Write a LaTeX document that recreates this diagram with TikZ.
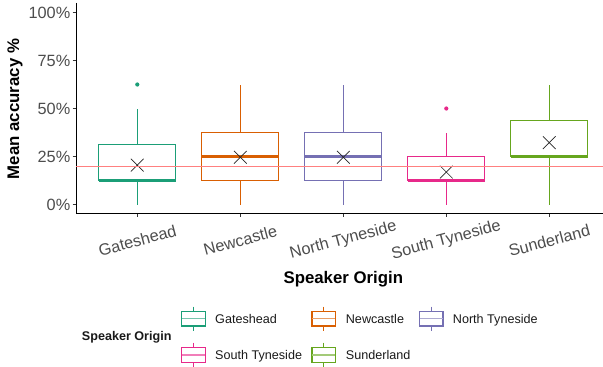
\documentclass[tikz,border=0pt]{standalone}
\usepackage{fontspec}
\setmainfont{Liberation Sans}
\usetikzlibrary{shapes.misc}

\definecolor{gates}{HTML}{1B9E77}
\definecolor{newc}{HTML}{D95F02}
\definecolor{north}{HTML}{7570B3}
\definecolor{south}{HTML}{E7298A}
\definecolor{sund}{HTML}{66A61E}
\definecolor{ticktext}{HTML}{4D4D4D}
\definecolor{tickline}{HTML}{333333}
\definecolor{refline}{HTML}{FF8080}

\begin{document}
\begin{tikzpicture}[x=1pt, y=-1pt,
    axisline/.style={black, line width=1pt},
    tickmark/.style={tickline, line width=0.9pt},
    boxline/.style={line width=1pt},
    medline/.style={line width=2.4pt},
    meanmark/.style={cross out, draw=black!85, line width=0.7pt, minimum size=12pt, inner sep=0},
    ticklab/.style={font=\fontsize{16.3}{18}\selectfont, text=ticktext, inner sep=0},
    axtitle/.style={font=\fontsize{16.8}{19}\selectfont\bfseries, inner sep=0},
    legtext/.style={font=\fontsize{12.6}{14}\selectfont, text=black!90, inner sep=0, anchor=base west}]
    \useasboundingbox (0,0) rectangle (603,367);

    % Achsen
    \draw[axisline] (76,2.9) -- (76,213.8) -- (603,213.8);
    \foreach \v [count=\i] in {0,25,50,75,100} {
        \draw[tickmark] (72.7,{204.5-1.92*\v}) -- (76,{204.5-1.92*\v});
        \node[ticklab, anchor=east] (ylab\i) at (70.5,{204.5-1.92*\v}) {\v\%};
    }

    % Boxen
    \begin{scope}[shift={(0,204.5)}, y=1.92pt]
        \foreach \xc/\lo/\qa/\md/\qb/\hi/\mn/\col [count=\i] in {
            137.3/0/12.5/12.5/31.25/50/20.5/gates,
            240.3/0/12.5/25/37.5/62.5/24.6/newc,
            343.3/0/12.5/25/37.5/62.5/24.6/north,
            446.3/0/12.5/12.5/25/37.5/16.9/south,
            549.3/0/25/25/43.75/62.5/32.2/sund} {
            \draw[draw=\col, boxline] (\xc,\lo) -- (\xc,\qa) (\xc,\qb) -- (\xc,\hi);
            \draw[draw=\col, boxline, fill=white] (\xc-38.6,\qa) rectangle (\xc+38.6,\qb);
            \draw[draw=\col, medline] (\xc-38.6,\md) -- (\xc+38.6,\md);
            \node[meanmark] (mean\i) at (\xc,\mn) {};
        }
        \fill[gates] (137.3,62.5) circle (2.1pt);
        \fill[south] (446.3,50) circle (2.1pt);
        \draw[refline, line width=0.9pt] (76,20) -- (603,20);
    \end{scope}

    % Beschriftung x
    \foreach \xc/\name [count=\i] in {137.3/Gateshead, 240.3/Newcastle,
        343.3/North Tyneside, 446.3/South Tyneside, 549.3/Sunderland} {
        \draw[tickmark] (\xc,213.8) -- (\xc,216.8);
        \node[ticklab, rotate=15] (xlab\i) at (\xc,240.5) {\name};
    }
    \node[axtitle, anchor=base] (xtitle) at (343.3,283.5) {Speaker Origin};
    \node[axtitle, rotate=90] (ytitle) at (15,109) {Mean accuracy \%};

    % Legende
    \node[legtext, font=\fontsize{12.6}{14}\selectfont\bfseries] (legtitle) at (81.7,340.5) {Speaker Origin};
    \foreach \kx/\ky/\tx/\col/\name [count=\i] in {
        193.4/355/215/south/South Tyneside,
        323.7/355/345.7/sund/Sunderland,
        193.4/318.8/215/gates/Gateshead,
        323.7/318.8/345.7/newc/Newcastle,
        431.2/318.8/452.7/north/North Tyneside} {
        \draw[\col, line width=1.2pt] (\kx,\ky-12.3) -- (\kx,\ky-7.2) (\kx,\ky+7.2) -- (\kx,{min(\ky+12.3,366.8)});
        \draw[\col, line width=1.2pt] (\kx-11.7,\ky-7.2) rectangle (\kx+11.7,\ky+7.2);
        \draw[\col!60, line width=1.2pt] (\kx-11.7,\ky) -- (\kx+11.7,\ky);
        \node[legtext] (leg\i) at (\tx,\ky+4.5) {\name};
    }
\end{tikzpicture}
\end{document}
